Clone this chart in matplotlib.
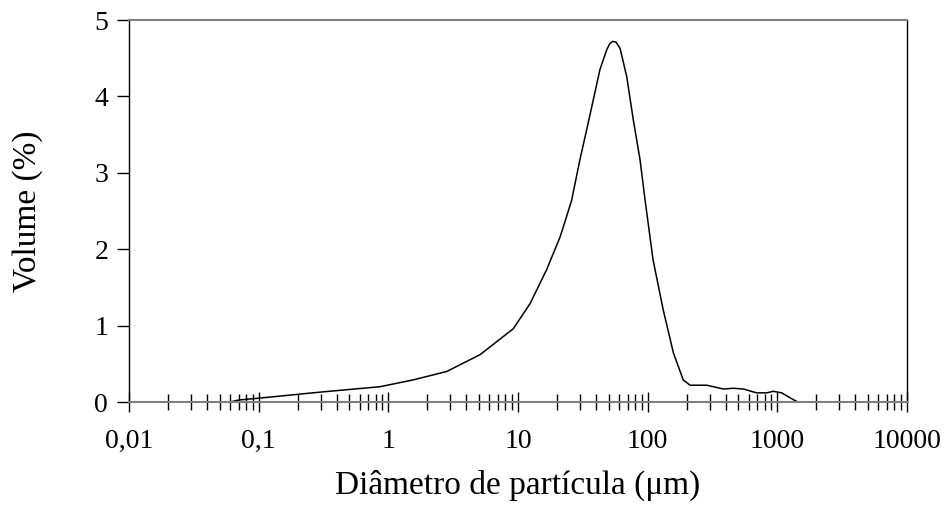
import numpy as np
import matplotlib
matplotlib.use("Agg")
import matplotlib.pyplot as plt
from matplotlib.ticker import FixedLocator, FixedFormatter, NullFormatter

# diametro (um) et volume (%)
diametre = [0.048, 0.06, 0.07, 0.1, 0.3, 0.86, 1.56, 2.82, 5.1, 9.2, 12.4, 16.6,
            21.1, 23.7, 25.9, 30, 34, 38, 42.8, 48.3, 51, 53.7, 57, 61.2, 68.9,
            77.5, 87.3, 95.5, 110, 132, 158, 188, 212, 285, 384, 458, 547, 692,
            827, 932, 1080, 1330, 1445]
volume = [0.0, 0.0, 0.026, 0.05, 0.13, 0.2, 0.29, 0.40, 0.62, 0.96, 1.29, 1.73,
          2.16, 2.43, 2.64, 3.17, 3.58, 3.95, 4.35, 4.61, 4.69, 4.72, 4.71, 4.63,
          4.26, 3.69, 3.17, 2.64, 1.86, 1.20, 0.64, 0.29, 0.22, 0.22, 0.17, 0.18,
          0.17, 0.12, 0.12, 0.14, 0.12, 0.03, 0.0]

xticks = [0.01, 0.1, 1, 10, 100, 1000, 10000]
xlabels = ['0,01', '0,1', '1', '10', '100', '1000', '10000']
yticks = [0, 1, 2, 3, 4, 5]

plt.rcParams['font.family'] = ['Liberation Serif', 'DejaVu Serif']
plt.rcParams['font.size'] = 20

fig = plt.figure(figsize=(9.46, 5.24), dpi=100)
ax = fig.add_axes([0.1364, 0.2328, 0.8224, 0.729])

ax.plot(diametre, volume, color='black', linewidth=1.1)

ax.set_xscale('log')
ax.set_xlim(0.01, 10000)
ax.set_ylim(0, 5)

ax.xaxis.set_major_locator(FixedLocator(xticks))
ax.xaxis.set_major_formatter(FixedFormatter(xlabels))
minors = [m * 10.0 ** e for e in range(-2, 4) for m in range(2, 10)]
ax.xaxis.set_minor_locator(FixedLocator(minors))
ax.xaxis.set_minor_formatter(NullFormatter())
ax.set_yticks(yticks)

ax.tick_params(axis='x', which='major', direction='inout', length=15, width=1,
               pad=12, colors='black', labelsize=20)
ax.tick_params(axis='x', which='minor', direction='inout', length=11, width=1,
               colors='black')
ax.tick_params(axis='y', which='major', direction='out', length=9, width=1,
               pad=6, labelsize=20)

for side in ['left', 'right']:
    ax.spines[side].set_color('black')
    ax.spines[side].set_linewidth(1)
for side in ['top', 'bottom']:
    ax.spines[side].set_color('#7f7f7f')
    ax.spines[side].set_linewidth(1.5)

ax.set_xlabel('Diâmetro de partícula (μm)', fontsize=24)
ax.set_ylabel('Volume (%)', fontsize=24)
ax.xaxis.set_label_coords(0.5, -0.217, transform=ax.transAxes)
ax.yaxis.set_label_coords(-0.131, 0.5, transform=ax.transAxes)
ax.xaxis.label.set_va('center')
ax.yaxis.label.set_va('center')

fig.savefig('out.png', dpi=100)
